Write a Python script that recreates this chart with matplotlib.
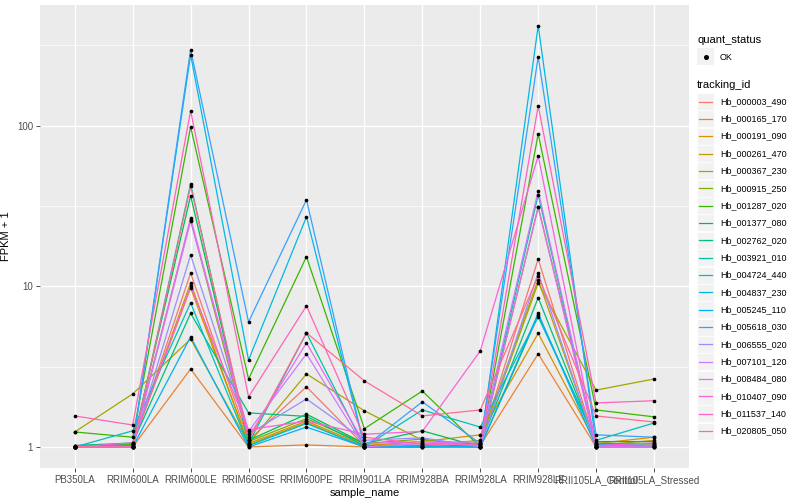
import matplotlib
matplotlib.use("Agg")
import matplotlib.pyplot as plt
from matplotlib.patches import Rectangle
from matplotlib.lines import Line2D
from matplotlib.ticker import FixedLocator, NullFormatter

plt.rcParams['font.family'] = ['Liberation Sans', 'DejaVu Sans']

samples = ["PB350LA", "RRIM600LA", "RRIM600LE", "RRIM600SE", "RRIM600PE",
           "RRIM901LA", "RRIM928BA", "RRIM928LA", "RRIM928LE",
           "RRII105LA_Control", "RRII105LA_Stressed"]

tracking_ids = ["Hb_000003_490", "Hb_000165_170", "Hb_000191_090", "Hb_000261_470",
                "Hb_000367_230", "Hb_000915_250", "Hb_001287_020", "Hb_001377_080",
                "Hb_002762_020", "Hb_003921_010", "Hb_004724_440", "Hb_004837_230",
                "Hb_005245_110", "Hb_005618_030", "Hb_006555_020", "Hb_007101_120",
                "Hb_008484_080", "Hb_010407_090", "Hb_011537_140", "Hb_020805_050"]

# ggplot hue palette, 20 levels
colors = ["#F8766D", "#EA8331", "#D89000", "#C09B00", "#A3A500", "#7CAE00",
          "#39B600", "#00BB4E", "#00BF7D", "#00C1A3", "#00BFC4", "#00BAE0",
          "#00B0F6", "#35A2FF", "#9590FF", "#C77CFF", "#E76BF3", "#FA62DB",
          "#FF62BC", "#FF6C91"]

# FPKM + 1 per gene, in sample order
hb_000003_490 = [1.0, 1.02, 12.1, 1.1, 2.37, 1.02, 1.05, 1.05, 14.8, 1.02, 1.03]
hb_000165_170 = [1.0, 1.0, 3.06, 1.0, 1.03, 1.0, 1.0, 1.02, 3.8, 1.0, 1.0]
hb_000191_090 = [1.0, 1.05, 9.8, 1.05, 1.45, 1.02, 1.08, 1.19, 5.1, 1.05, 1.15]
hb_000261_470 = [1.02, 1.04, 10.5, 1.03, 1.42, 1.0, 1.02, 1.1, 11.0, 1.02, 1.1]
hb_000367_230 = [1.24, 2.14, 4.7, 1.05, 2.85, 1.68, 1.1, 1.05, 10.5, 2.26, 2.65]
hb_000915_250 = [1.02, 1.03, 26.0, 1.08, 1.5, 1.05, 1.12, 1.0, 31.3, 1.05, 1.05]
hb_001287_020 = [1.24, 1.15, 98.6, 2.65, 15.3, 1.3, 2.23, 1.0, 89.0, 1.7, 1.54]
hb_001377_080 = [1.0, 1.05, 36.6, 1.1, 1.6, 1.05, 1.26, 1.0, 6.6, 1.08, 1.08]
hb_002762_020 = [1.02, 1.06, 6.8, 1.63, 1.55, 1.02, 1.0, 1.04, 8.5, 1.05, 1.05]
hb_003921_010 = [1.0, 1.0, 43.5, 1.05, 5.13, 1.0, 1.02, 1.0, 37.2, 1.0, 1.02]
hb_004724_440 = [1.0, 1.26, 7.9, 1.02, 1.4, 1.0, 1.7, 1.33, 6.45, 1.1, 1.41]
hb_004837_230 = [1.0, 1.02, 277.0, 3.48, 27.1, 1.0, 1.0, 1.0, 420.0, 1.04, 1.02]
hb_005245_110 = [1.0, 1.0, 4.85, 1.0, 1.33, 1.0, 1.0, 1.0, 6.8, 1.0, 1.0]
hb_005618_030 = [1.0, 1.0, 298.0, 6.0, 34.6, 1.0, 1.91, 1.05, 269.0, 1.19, 1.15]
hb_006555_020 = [1.0, 1.0, 15.7, 1.2, 1.99, 1.1, 1.14, 1.0, 12.1, 1.0, 1.0]
hb_007101_120 = [1.0, 1.0, 25.5, 1.25, 3.8, 1.0, 1.05, 1.08, 39.4, 1.0, 1.0]
hb_008484_080 = [1.0, 1.0, 26.7, 1.15, 4.45, 1.05, 1.08, 1.02, 31.0, 1.0, 1.02]
hb_010407_090 = [1.0, 1.06, 10.0, 1.28, 1.45, 1.2, 1.25, 3.96, 65.0, 1.02, 1.06]
hb_011537_140 = [1.56, 1.37, 124.0, 2.05, 7.56, 1.15, 1.04, 1.04, 133.0, 1.88, 1.94]
hb_020805_050 = [1.0, 1.0, 42.0, 1.1, 5.13, 2.58, 1.56, 1.7, 11.6, 1.56, 1.43]

series = [hb_000003_490, hb_000165_170, hb_000191_090, hb_000261_470, hb_000367_230,
          hb_000915_250, hb_001287_020, hb_001377_080, hb_002762_020, hb_003921_010,
          hb_004724_440, hb_004837_230, hb_005245_110, hb_005618_030, hb_006555_020,
          hb_007101_120, hb_008484_080, hb_010407_090, hb_011537_140, hb_020805_050]

fig = plt.figure(figsize=(8, 5), dpi=100)
ax = fig.add_axes([0.05, 0.064, 0.811, 0.926])
ax.set_facecolor("#EBEBEB")
for s in ax.spines.values():
    s.set_visible(False)

x = list(range(len(samples)))
for vals, c in zip(series, colors):
    ax.plot(x, vals, color=c, lw=0.9, zorder=2)
for vals in series:
    ax.scatter(x, vals, s=7, color="black", zorder=3, linewidths=0)

ax.set_yscale("log")
ax.set_ylim(10 ** -0.131, 10 ** 2.752)
ax.set_xlim(-0.6, len(samples) - 0.4)
ax.yaxis.set_major_locator(FixedLocator([1, 10, 100]))
ax.yaxis.set_minor_locator(FixedLocator([10 ** 0.5, 10 ** 1.5, 10 ** 2.5]))
ax.yaxis.set_minor_formatter(NullFormatter())
ax.set_yticklabels(["1", "10", "100"])
ax.set_xticks(x)
ax.set_xticklabels(samples)
ax.tick_params(axis="both", which="major", labelsize=7, labelcolor="#4D4D4D",
               color="#333333", length=3, width=0.6, pad=2)
ax.tick_params(axis="y", which="minor", length=0)
ax.grid(True, which="major", color="white", lw=1.0)
ax.grid(True, which="minor", axis="y", color="white", lw=0.5)
ax.set_axisbelow(True)
ax.set_xlabel("sample_name", fontsize=8, labelpad=2)
ax.set_ylabel("FPKM + 1", fontsize=8, labelpad=4)

# legend drawn ggplot-style on the right
W, H = 800.0, 500.0
def fx(px):
    return px / W
def fy(py):
    return 1 - py / H

fig.text(fx(697), fy(40), "quant_status", fontsize=8, va="center")
fig.patches.append(Rectangle((fx(697), fy(65)), 17 / W, 17 / H, transform=fig.transFigure,
                             facecolor="#F2F2F2", edgecolor="none"))
fig.lines.append(Line2D([fx(705.5)], [fy(56.5)], marker="o", markersize=2.6, color="black",
                        transform=fig.transFigure))
fig.text(fx(720), fy(57), "OK", fontsize=6.5, va="center")

fig.text(fx(697), fy(85), "tracking_id", fontsize=8, va="center")
for i, (name, c) in enumerate(zip(tracking_ids, colors)):
    yc = 101.5 + i * 17.35
    fig.patches.append(Rectangle((fx(697), fy(yc + 8.5)), 17 / W, 17 / H,
                                 transform=fig.transFigure, facecolor="#F2F2F2",
                                 edgecolor="white", lw=0.5))
    fig.lines.append(Line2D([fx(699), fx(712)], [fy(yc), fy(yc)], color=c, lw=0.9,
                            transform=fig.transFigure))
    fig.text(fx(720), fy(yc), name, fontsize=6.5, va="center")

fig.savefig("out.png", dpi=100)
